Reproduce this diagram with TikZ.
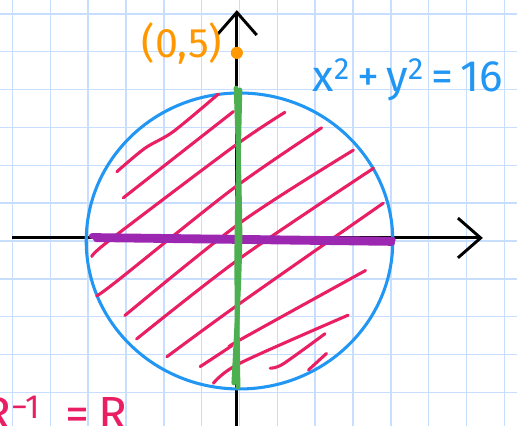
\documentclass[tikz,border=0pt]{standalone}
\usepackage{fontspec}
\usepackage{tikz}
\usetikzlibrary{arrows.meta}
\newfontfamily\handfont{Fira Sans}
\definecolor{gridblue}{RGB}{200,222,255}
\definecolor{ringblue}{RGB}{33,150,243}
\definecolor{hatchpink}{RGB}{233,30,99}
\definecolor{diagreen}{RGB}{76,175,80}
\definecolor{diapurple}{RGB}{156,39,176}
\definecolor{ptorange}{RGB}{255,152,0}

\begin{document}
\begin{tikzpicture}[
  gridline/.style={gridblue, line width=1.1pt},
  axis/.style={line width=2.2pt, -{Straight Barb[length=6mm,width=10.5mm]}},
  ring/.style={ringblue, line width=2.3pt},
  hatch/.style={hatchpink, line width=2.3pt, line cap=round},
  vline/.style={diagreen, line width=3.6pt, line cap=round},
  hline/.style={diapurple, line width=4.4pt, line cap=round},
  dot/.style={circle, fill=ptorange, inner sep=0pt, minimum size=3.2mm},
  hand/.style={inner sep=0pt, font=\handfont\fontsize{31}{33}\selectfont}
]
\clip (-6.328,-4.888) rectangle (7.332,6.367);
% grid paper
\draw[gridline] (-7,-5) grid (8,7);
% axes
\coordinate (xl) at (-6.01,0.08);
\coordinate (xr) at (6.43,0.08);
\coordinate (yb) at (-0.07,-5.3);
\coordinate (yt) at (-0.07,6.10);
\draw[axis] (xl) -- (xr);
\draw[axis] (yb) -- (yt);
% x^2+y^2=16
\draw[ring] (0,0) ellipse (4.05 and 3.91);
% shaded disc
\draw[hatch] plot[smooth] coordinates {(-3.24,1.83) (-2.50,2.45) (-1.75,2.89) (-0.56,3.88)};
\draw[hatch] (-3.07,1.14) -- (-0.16,3.42);
\draw[hatch] plot[smooth] coordinates {(-3.90,-0.41) (-3.42,0.03) (-0.16,2.49) (1.20,3.40)};
\draw[hatch] plot[smooth] coordinates {(-3.77,-1.45) (-3.20,-1.03) (-0.16,1.39) (2.17,2.99)};
\draw[hatch] plot[smooth] coordinates {(-3.03,-1.97) (0.06,0.51) (3.01,2.40)};
\draw[hatch] plot[smooth] coordinates {(-2.72,-2.59) (0.01,-0.46) (3.54,1.92)};
\draw[hatch] plot[smooth] coordinates {(-1.92,-3.06) (0.01,-1.65) (3.80,1.00)};
\draw[hatch] plot[smooth] coordinates {(-1.04,-3.32) (-0.25,-2.80) (0.00,-2.62) (3.33,-0.78)};
\draw[hatch] plot[smooth] coordinates {(-0.69,-3.76) (0.01,-3.23) (2.87,-1.96)};
\draw[hatch] plot[smooth] coordinates {(0.81,-3.36) (1.15,-3.25) (2.26,-2.45)};
\draw[hatch] (1.82,-3.41) -- (2.30,-2.97);
% domain
\draw[hline] (-3.90,0.13) -- (4.05,0.03);
\draw[hline] (-3.79,0.05) -- (4.03,-0.05);
% range
\draw[vline] plot[smooth] coordinates {(-0.09,4.04) (0.01,0.03) (-0.15,-3.75)};
\draw[vline] plot[smooth] coordinates {(0.01,3.99) (-0.07,-0.24) (-0.04,-3.86)};
% point
\node[dot] (p05) at (-0.07,4.97) {};
\node[hand, text=ptorange] (lbl05) at (-1.52,5.23) {(0,5)};
\node[hand, text=ringblue, font=\handfont\fontsize{33}{35}\selectfont] (eqn) at (4.45,4.25)
  {x\textsuperscript{2}\,+\,y\textsuperscript{2}\,=\,16};
\node[hand, text=hatchpink, anchor=base east, font=\handfont\fontsize{36}{38}\selectfont] (inv) at (-2.95,-5.02)
  {R\textsuperscript{−1}\hspace{0.65cm}=\hspace{0.25cm}R};
\end{tikzpicture}
\end{document}
